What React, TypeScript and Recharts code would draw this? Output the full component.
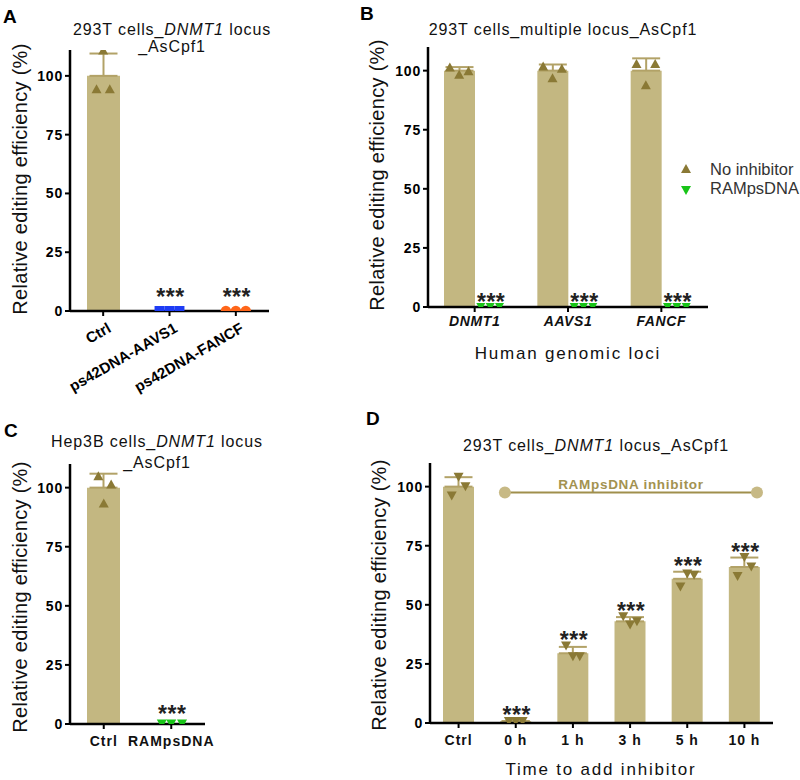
import React from 'react';
import { ComposedChart, Bar, Scatter, Line, XAxis, YAxis, ErrorBar } from 'recharts';

// ---------- data ----------
// Panel A
const aCategories = ['Ctrl', 'ps42DNA-AAVS1', 'ps42DNA-FANCF'];
const aMeans = [100, 0, 0];
const aSD = [9.5, 0, 0];
const aCtrlPoints = [94.5, 111, 94.5];
const aAAVS1Points = [0, 0, 0];
const aFANCFPoints = [0, 0, 0];

// Panel B
const bLoci = ['DNMT1', 'AAVS1', 'FANCF'];
const bNoInhibitorMeans = [100, 100, 100];
const bNoInhibitorSD = [1.5, 2.6, 5.2];
const bNoInhibitorPoints = [
  [101.5, 98.5, 100],
  [102, 97, 101],
  [103, 94, 103],
];
const bRAMpsDNAMeans = [0, 0, 0];
const bRAMpsDNAPoints = [
  [0, 0, 0],
  [0, 0, 0],
  [0, 0, 0],
];

// Panel C
const cCategories = ['Ctrl', 'RAMpsDNA'];
const cMeans = [100, 0];
const cSD = [5.9, 0];
const cCtrlPoints = [105, 93.5, 101.5];
const cRAMpsDNAPoints = [0, 0, 0];

// Panel D
const dTimes = ['Ctrl', '0 h', '1 h', '3 h', '5 h', '10 h'];
const dMeans = [100, 0.8, 29.5, 43, 61, 66];
const dSD = [4, 0, 2.7, 1.8, 3, 4];
const dPoints = [
  [96, 104, 100],
  [0.6, 0.6, 0.6],
  [32.6, 28, 28],
  [45, 41.5, 42.8],
  [57.5, 63, 62.5],
  [62, 70, 66],
];
const dStarCategories = [1, 2, 3, 4, 5];
const dInhibitorSpan = [0.81, 5.22];
const dInhibitorLevel = 97.5;
const dInhibitorLabel = 'RAMpsDNA inhibitor';

const yTicks = [0, 25, 50, 75, 100];

// ---------- styles ----------
const FONT = '"Liberation Sans", Arial, Helvetica, sans-serif';
const BAR_FILL = '#C3B781';
const ERR_COLOR = '#B2A267';
const OLIVE = '#8A7935';
const GREEN = '#18C418';
const BLUE = '#1E3CF5';
const ORANGE = '#FF661A';
const AXIS = { stroke: '#000', strokeWidth: 2.5 };
const TICKLINE = { stroke: '#000', strokeWidth: 2 };
const YTICK = { fontSize: 14, fontWeight: 'bold', fill: '#000', fontFamily: FONT, letterSpacing: 0.8 };
const XTICK = { fontSize: 14, fontWeight: 'bold', fill: '#111', fontFamily: FONT, letterSpacing: 1 };

// ---------- shapes ----------
const upTri = (color: string, w = 10, h = 9) => (p: any) => {
  const { cx, cy } = p;
  if (cx == null || cy == null) return <g />;
  return <path d={`M${cx},${cy - h / 2} L${cx + w / 2},${cy + h / 2} L${cx - w / 2},${cy + h / 2} Z`} fill={color} />;
};
const downTri = (color: string, w = 10, h = 9) => (p: any) => {
  const { cx, cy } = p;
  if (cx == null || cy == null) return <g />;
  return <path d={`M${cx - w / 2},${cy - h / 2} L${cx + w / 2},${cy - h / 2} L${cx},${cy + h / 2} Z`} fill={color} />;
};
const square = (color: string, s = 10) => (p: any) => {
  const { cx, cy } = p;
  if (cx == null || cy == null) return <g />;
  return <rect x={cx - s / 2} y={cy - s / 2} width={s} height={s} fill={color} />;
};
const circle = (color: string, r = 5.2) => (p: any) => {
  const { cx, cy } = p;
  if (cx == null || cy == null) return <g />;
  return <circle cx={cx} cy={cy} r={r} fill={color} />;
};
const stars = (offset: number) => (p: any) => {
  const { cx, cy } = p;
  if (cx == null || cy == null) return <g />;
  return (
    <text x={cx + 1} y={cy - offset + 13} textAnchor="middle" fontSize={23} fontWeight="bold" fontFamily={FONT} letterSpacing={0.5} fill="#222">
      ***
    </text>
  );
};
const textShape = (label: string) => (p: any) => {
  const { cx, cy } = p;
  if (cx == null || cy == null) return <g />;
  return (
    <text x={cx} y={cy - 4} textAnchor="middle" fontSize={13.5} fontWeight="bold" fontFamily={FONT} letterSpacing={0.7} fill="#A39250">
      {label}
    </text>
  );
};

// ---------- helpers ----------
const pts = (center: number, values: number[], jitter: number[]) =>
  values.map((y, i) => ({ x: center + jitter[i], y }));

const J3 = [-0.1, 0, 0.1];

// ---------- panel A ----------
const aTable = aCategories.map((c, i) => ({ name: c, v: aMeans[i], err: [0, aSD[i]] }));
const aCtrlScatter = pts(0, aCtrlPoints, [-0.1, 0, 0.1]);
const aAAVS1Scatter = pts(1, aAAVS1Points, [-0.15, 0, 0.15]);
const aFANCFScatter = pts(2, aFANCFPoints, [-0.15, 0, 0.15]);
const aStars = [1, 2].map((i) => ({ x: i, y: 0 }));

const RotTick = (props: any) => {
  const { x, y, payload } = props;
  return (
    <g transform={`translate(${x + 9},${y + 13})`}>
      <text x={0} y={0} textAnchor="end" transform="rotate(-30)" fontSize={15} fontWeight="bold" fontFamily={FONT} letterSpacing={0.1} fill="#000">
        {payload.value}
      </text>
    </g>
  );
};

const PanelA = () => (
  <ComposedChart width={290} height={420} data={aTable} margin={{ top: 50, right: 21, left: 30, bottom: 20 }}>
    <XAxis xAxisId="cat" dataKey="name" interval={0} height={89}
      axisLine={AXIS} tickLine={TICKLINE} tickSize={5} tick={RotTick} />
    <XAxis xAxisId="num" type="number" dataKey="x" domain={[-0.5, 2.5]} allowDataOverflow hide />
    <YAxis type="number" domain={[0, 111]} ticks={yTicks} allowDataOverflow width={40}
      axisLine={AXIS} tickLine={TICKLINE} tickSize={5} tickMargin={2} tick={YTICK} />
    <Bar xAxisId="cat" dataKey="v" fill={BAR_FILL} barSize={33} isAnimationActive={false}>
      <ErrorBar dataKey="err" width={14} stroke={ERR_COLOR} strokeWidth={2} direction="y" />
    </Bar>
    <Scatter xAxisId="num" data={aCtrlScatter} dataKey="y" shape={upTri(OLIVE)} isAnimationActive={false} />
    <Scatter xAxisId="num" data={aAAVS1Scatter} dataKey="y" shape={square(BLUE)} isAnimationActive={false} />
    <Scatter xAxisId="num" data={aFANCFScatter} dataKey="y" shape={circle(ORANGE)} isAnimationActive={false} />
    <Scatter xAxisId="num" data={aStars} dataKey="y" shape={stars(19)} isAnimationActive={false} />
  </ComposedChart>
);

// ---------- panel B ----------
const B_OFF = 0.166;
const bTable = bLoci.map((c, i) => ({
  name: c,
  noInh: bNoInhibitorMeans[i],
  err: [0, bNoInhibitorSD[i]],
  ram: bRAMpsDNAMeans[i],
}));
const bNoInhScatter = bLoci.flatMap((c, i) => pts(i - B_OFF, bNoInhibitorPoints[i], J3));
const bRamScatter = bLoci.flatMap((c, i) => pts(i + B_OFF, bRAMpsDNAPoints[i], J3));
const bStars = bLoci.map((c, i) => ({ x: i + B_OFF, y: Math.max(...bRAMpsDNAPoints[i]) }));

const PanelB = () => (
  <ComposedChart width={420} height={400} data={bTable} margin={{ top: 47, right: 92, left: 8, bottom: 0 }} barGap={0}>
    <XAxis xAxisId="cat" dataKey="name" interval={0} height={93}
      axisLine={AXIS} tickLine={TICKLINE} tickSize={5} tickMargin={4}
      tick={{ ...XTICK, fontStyle: 'italic', letterSpacing: 0.6 }} />
    <XAxis xAxisId="num" type="number" dataKey="x" domain={[-0.5, 2.5]} allowDataOverflow hide />
    <YAxis type="number" domain={[0, 110]} ticks={yTicks} allowDataOverflow width={40}
      axisLine={AXIS} tickLine={TICKLINE} tickSize={5} tickMargin={2} tick={YTICK} />
    <Bar xAxisId="cat" dataKey="noInh" fill={BAR_FILL} barSize={31} isAnimationActive={false}>
      <ErrorBar dataKey="err" width={14} stroke={ERR_COLOR} strokeWidth={2} direction="y" />
    </Bar>
    <Bar xAxisId="cat" dataKey="ram" fill={BAR_FILL} barSize={31} isAnimationActive={false} />
    <Scatter xAxisId="num" data={bNoInhScatter} dataKey="y" shape={upTri(OLIVE)} isAnimationActive={false} />
    <Scatter xAxisId="num" data={bRamScatter} dataKey="y" shape={downTri(GREEN, 9, 8)} isAnimationActive={false} />
    <Scatter xAxisId="num" data={bStars} dataKey="y" shape={stars(10)} isAnimationActive={false} />
  </ComposedChart>
);

// ---------- panel C ----------
const cTable = cCategories.map((c, i) => ({ name: c, v: cMeans[i], err: [0, cSD[i]] }));
const cCtrlScatter = pts(0, cCtrlPoints, [-0.08, 0, 0.11]);
const cRamScatter = pts(1, cRAMpsDNAPoints, [-0.14, 0, 0.16]);
const cStars = [{ x: 1, y: Math.max(...cRAMpsDNAPoints) }];

const PanelC = () => (
  <ComposedChart width={250} height={380} data={cTable} margin={{ top: 64, right: 45, left: 30, bottom: 0 }}>
    <XAxis xAxisId="cat" dataKey="name" interval={0} height={56}
      axisLine={AXIS} tickLine={TICKLINE} tickSize={5} tickMargin={7} tick={XTICK} />
    <XAxis xAxisId="num" type="number" dataKey="x" domain={[-0.5, 1.5]} allowDataOverflow hide />
    <YAxis type="number" domain={[0, 110]} ticks={yTicks} allowDataOverflow width={40}
      axisLine={AXIS} tickLine={TICKLINE} tickSize={5} tickMargin={2} tick={YTICK} />
    <Bar xAxisId="cat" dataKey="v" fill={BAR_FILL} barSize={33} isAnimationActive={false}>
      <ErrorBar dataKey="err" width={14} stroke={ERR_COLOR} strokeWidth={2} direction="y" />
    </Bar>
    <Scatter xAxisId="num" data={cCtrlScatter} dataKey="y" shape={upTri(OLIVE)} isAnimationActive={false} />
    <Scatter xAxisId="num" data={cRamScatter} dataKey="y" shape={downTri(GREEN, 10, 9)} isAnimationActive={false} />
    <Scatter xAxisId="num" data={cStars} dataKey="y" shape={stars(15)} isAnimationActive={false} />
  </ComposedChart>
);

// ---------- panel D ----------
const dTable = dTimes.map((c, i) => ({ name: c, v: dMeans[i], err: [0, dSD[i]] }));
const dScatter = dTimes.flatMap((c, i) => pts(i, dPoints[i], [-0.12, 0, 0.12]));
const dStars = dStarCategories.map((i) => ({ x: i, y: Math.max(...dPoints[i], dMeans[i] + dSD[i]) }));
const dInhibitorLine = dInhibitorSpan.map((x) => ({ x, y: dInhibitorLevel }));
const dInhibitorText = [{ x: (dInhibitorSpan[0] + dInhibitorSpan[1]) / 2, y: dInhibitorLevel }];

const PanelD = () => (
  <ComposedChart width={420} height={380} data={dTable} margin={{ top: 63, right: 27, left: 10, bottom: 0 }}>
    <XAxis xAxisId="cat" dataKey="name" interval={0} height={57}
      axisLine={AXIS} tickLine={TICKLINE} tickSize={5} tickMargin={7} tick={XTICK} />
    <XAxis xAxisId="num" type="number" dataKey="x" domain={[-0.5, 5.5]} allowDataOverflow hide />
    <YAxis type="number" domain={[0, 110]} ticks={yTicks} allowDataOverflow width={40}
      axisLine={AXIS} tickLine={TICKLINE} tickSize={5} tickMargin={2} tick={YTICK} />
    <Bar xAxisId="cat" dataKey="v" fill={BAR_FILL} barSize={31} isAnimationActive={false}>
      <ErrorBar dataKey="err" width={14} stroke={ERR_COLOR} strokeWidth={2} direction="y" />
    </Bar>
    <Scatter xAxisId="num" data={dScatter} dataKey="y" shape={downTri(OLIVE)} isAnimationActive={false} />
    <Scatter xAxisId="num" data={dStars} dataKey="y" shape={stars(11)} isAnimationActive={false} />
    <Line xAxisId="num" data={dInhibitorLine} dataKey="y" stroke="#A08F4C" strokeWidth={2}
      dot={{ r: 6, fill: '#C7B985', stroke: 'none' }} isAnimationActive={false} />
    <Scatter xAxisId="num" data={dInhibitorText} dataKey="y" shape={textShape(dInhibitorLabel)} isAnimationActive={false} />
  </ComposedChart>
);

// ---------- overlay texts ----------
const T = { fontFamily: FONT, fill: '#111' } as const;
const TITLE = { ...T, fontSize: 16, letterSpacing: 0.9, textAnchor: 'middle' as const };
const YLAB = { ...T, fontSize: 20, letterSpacing: 0.3, textAnchor: 'middle' as const };
const XLAB = { ...T, fontSize: 17, letterSpacing: 1.8, textAnchor: 'middle' as const };
const LETTER = { ...T, fontSize: 19, fontWeight: 'bold' as const, fill: '#000' };

const Overlay = () => (
  <svg width={800} height={780} style={{ position: 'absolute', left: 0, top: 0, pointerEvents: 'none' }}>
    <text x={3} y={23} {...LETTER}>A</text>
    <text x={360} y={20} {...LETTER}>B</text>
    <text x={4} y={437} {...LETTER}>C</text>
    <text x={366} y={425} {...LETTER}>D</text>

    <text x={172} y={35} {...TITLE}>293T cells_<tspan fontStyle="italic">DNMT1</tspan> locus</text>
    <text x={172} y={52} {...TITLE}>_AsCpf1</text>
    <text x={563} y={35} {...TITLE}>293T cells_multiple locus_AsCpf1</text>
    <text x={157} y={447} {...TITLE}>Hep3B cells_<tspan fontStyle="italic">DNMT1</tspan> locus</text>
    <text x={157} y={468} {...TITLE}>_AsCpf1</text>
    <text x={596} y={451} {...TITLE}>293T cells_<tspan fontStyle="italic">DNMT1</tspan> locus_AsCpf1</text>

    <text transform="translate(27,179) rotate(-90)" {...YLAB}>Relative editing efficiency (%)</text>
    <text transform="translate(384,175) rotate(-90)" {...YLAB}>Relative editing efficiency (%)</text>
    <text transform="translate(27,597) rotate(-90)" {...YLAB}>Relative editing efficiency (%)</text>
    <text transform="translate(386,595) rotate(-90)" {...YLAB}>Relative editing efficiency (%)</text>

    <text x={568} y={359} {...XLAB}>Human genomic loci</text>
    <text x={601} y={775} {...XLAB}>Time to add inhibitor</text>

    <path d="M681,173 L691,173 L686,164 Z" fill={OLIVE} />
    <text x={710} y={175} fontFamily={FONT} fontSize={16.5} fill="#333">No inhibitor</text>
    <path d="M681,186 L691,186 L686,195 Z" fill={GREEN} />
    <text x={710} y={194} fontFamily={FONT} fontSize={16.5} fill="#333">RAMpsDNA</text>
  </svg>
);

export default function App() {
  return (
    <div style={{ position: 'absolute', left: 0, top: 0, width: 800, height: 780, background: '#fff', fontFamily: FONT }}>
      <div style={{ position: 'absolute', left: 0, top: 400 }}><PanelC /></div>
      <div style={{ position: 'absolute', left: 380, top: 400 }}><PanelD /></div>
      <div style={{ position: 'absolute', left: 0, top: 0 }}><PanelA /></div>
      <div style={{ position: 'absolute', left: 380, top: 0 }}><PanelB /></div>
      <Overlay />
    </div>
  );
}
